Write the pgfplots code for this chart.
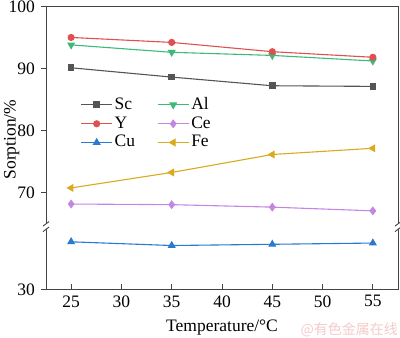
\documentclass[border=0pt]{standalone}
\usepackage{pgfplots}
\usepackage{pgfplotstable}
\pgfplotsset{compat=1.18}
\usepackage{fontspec}
\setmainfont{Liberation Serif}
\newfontfamily\cjk{Noto Sans CJK SC}
\definecolor{cSc}{HTML}{555555}
\definecolor{cY}{HTML}{E05050}
\definecolor{cCu}{HTML}{2A7AD2}
\definecolor{cAl}{HTML}{3DBA7A}
\definecolor{cCe}{HTML}{C486E6}
\definecolor{cFe}{HTML}{D9AA1E}
\definecolor{axcol}{HTML}{444444}
\definecolor{wm}{HTML}{F4CACA}
\pgfplotstableread{
x y
25 90.1
35 88.6
45 87.2
55 87.1
}\Sc
\pgfplotstableread{
x y
25 93.8
35 92.6
45 92.1
55 91.2
}\Al
\pgfplotstableread{
x y
25 95.0
35 94.2
45 92.7
55 91.8
}\Yt
\pgfplotstableread{
x y
25 68.1
35 68.0
45 67.6
55 67.0
}\Ce
\pgfplotstableread{
x y
25 37.7
35 37.1
45 37.3
55 37.5
}\Cu
\pgfplotstableread{
x y
25 70.7
35 73.2
45 76.1
55 77.1
}\Fe
\begin{document}
\fontsize{17.5}{20}\selectfont
\begin{tikzpicture}
\begin{axis}[
  scale only axis, width=352pt, height=283pt,
  xmin=22.5, xmax=57.5, ymin=54.3, ymax=100,
  xtick={25,30,...,55},
  ytick={54.3,70,80,90,100}, yticklabels={30,70,80,90,100},
  /pgf/number format/assume math mode=true,
  ticklabel style={font=\fontsize{17.5}{20}\selectfont},
  axis line style={axcol, line width=0.9pt},
  every tick/.style={axcol, line width=0.9pt},
  major tick length=5pt,
  xtick pos=bottom, ytick pos=left,
  xtick align=inside, ytick align=outside,
  xlabel={Temperature/°C}, ylabel={Sorption/\%},
  label style={font=\fontsize{17.5}{20}\selectfont},
  xlabel style={at={(axis description cs:0.5,0)}, anchor=base, yshift=-42pt},
  ylabel style={at={(axis description cs:-0.075,0.53)}, anchor=south, inner sep=0pt},
  legend columns=2,
  legend style={draw=none, fill=none, at={(axis description cs:0.095,0.69)}, anchor=north west,
    font=\fontsize{17.5}{18}\selectfont, /tikz/every even column/.append style={column sep=20pt},
    row sep=0.5pt, inner sep=1pt},
  legend cell align=left,
  legend image code/.code={\draw[mark repeat=2,mark phase=2] plot coordinates {(0pt,0pt) (15.5pt,0pt) (31pt,0pt)};},
  every axis plot/.append style={line width=1.1pt},
  clip=false,
]
\addplot[cSc, mark=square*, mark size=2.8pt] table[x=x,y=y] {\Sc};
\addlegendentry{Sc}
\addplot[cAl, mark=triangle*, mark size=3.6pt, mark options={rotate=180}] table[x=x,y=y] {\Al};
\addlegendentry{Al}
\addplot[cY, mark=*, mark size=3pt] table[x=x,y=y] {\Yt};
\addlegendentry{Y}
\addplot[cCe, mark=diamond*, mark size=3.6pt] table[x=x,y=y] {\Ce};
\addlegendentry{Ce}
\addplot[cCu, mark=triangle*, mark size=3.6pt] table[x=x,y expr=\thisrow{y}+24.3] {\Cu};
\addlegendentry{Cu}
\addplot[cFe, mark=triangle*, mark size=3.6pt, mark options={rotate=90}] table[x=x,y=y] {\Fe};
\addlegendentry{Fe}
% axis breaks
\fill[white] ([xshift=-4pt,yshift=-2.5pt]axis cs:22.5,64.46) rectangle ([xshift=4pt,yshift=2.5pt]axis cs:22.5,64.46);
\draw[axcol, line width=0.9pt] ([xshift=-3pt,yshift=-5pt]axis cs:22.5,64.46) -- ([xshift=3pt,yshift=-0.5pt]axis cs:22.5,64.46);
\draw[axcol, line width=0.9pt] ([xshift=-3pt,yshift=0.5pt]axis cs:22.5,64.46) -- ([xshift=3pt,yshift=5pt]axis cs:22.5,64.46);
\fill[white] ([xshift=-4pt,yshift=-2.5pt]axis cs:57.5,64.46) rectangle ([xshift=4pt,yshift=2.5pt]axis cs:57.5,64.46);
\draw[axcol, line width=0.9pt] ([xshift=-3pt,yshift=-5pt]axis cs:57.5,64.46) -- ([xshift=3pt,yshift=-0.5pt]axis cs:57.5,64.46);
\draw[axcol, line width=0.9pt] ([xshift=-3pt,yshift=0.5pt]axis cs:57.5,64.46) -- ([xshift=3pt,yshift=5pt]axis cs:57.5,64.46);
\node[anchor=base east, inner sep=0pt, text=wm, font=\cjk\fontsize{14}{16}\selectfont] at ([xshift=0pt,yshift=-45.5pt]axis cs:57.5,54.3) {@有色金属在线};
\end{axis}
\pgfresetboundingbox
\path ([shift={(-46pt,-48.5pt)}]current axis.south west) rectangle ([shift={(2pt,6.5pt)}]current axis.north east);
\end{tikzpicture}
\end{document}
